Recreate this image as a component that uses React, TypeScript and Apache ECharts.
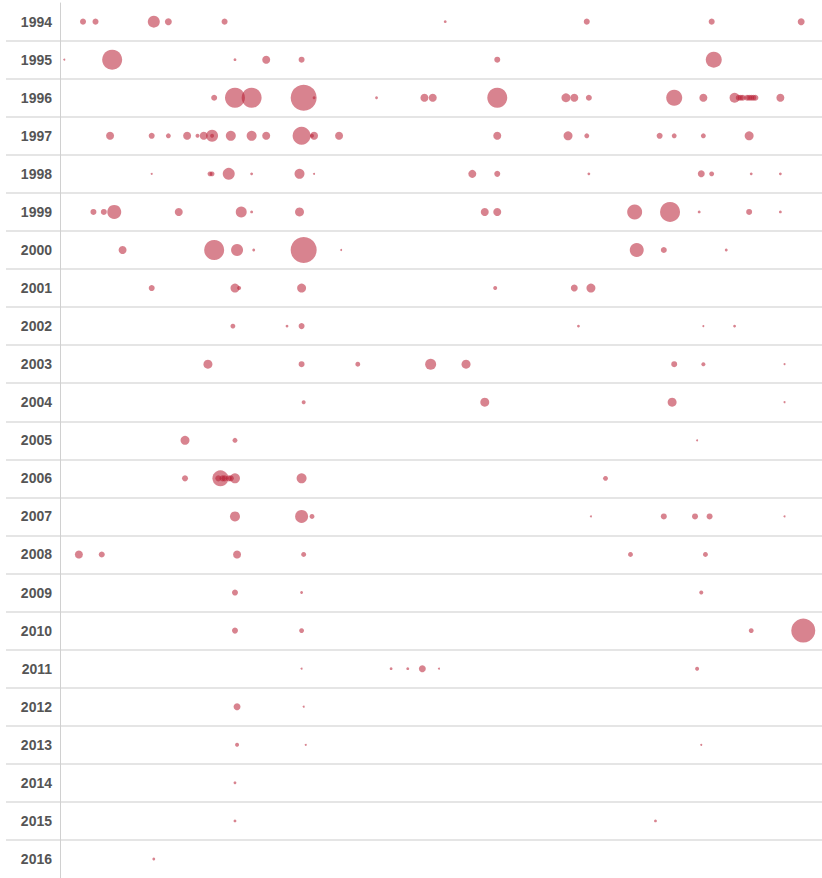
import React, { useEffect, useRef } from "react";
import * as echarts from "echarts";

const years = [
  "1994", "1995", "1996", "1997", "1998", "1999", "2000", "2001", "2002", "2003", "2004", "2005",
  "2006", "2007", "2008", "2009", "2010", "2011", "2012", "2013", "2014", "2015", "2016",
];

// day of year of each event, per year row
const eventDays: number[][] = [
  [11, 17, 45, 52, 79, 185, 253, 313, 356],
  [2, 25, 84, 99, 116, 210, 314],
  [74, 84, 92, 117, 122, 152, 175, 179, 210, 243, 247, 254, 295, 309, 324, 326, 327, 328, 330, 331, 332, 333, 334, 346],
  [24, 44, 52, 61, 66, 69, 73, 73, 82, 92, 99, 116, 121, 122, 134, 210, 244, 253, 288, 295, 309, 331],
  [44, 72, 73, 81, 92, 115, 122, 198, 210, 254, 308, 313, 332, 346],
  [16, 21, 26, 57, 87, 92, 115, 204, 210, 276, 293, 307, 331, 346],
  [30, 74, 85, 93, 117, 135, 277, 290, 320],
  [44, 84, 86, 116, 209, 247, 255],
  [83, 109, 116, 249, 309, 324],
  [71, 116, 143, 178, 195, 295, 309, 348],
  [117, 204, 294, 348],
  [60, 84, 306],
  [60, 76, 77, 78, 79, 81, 82, 84, 116, 262],
  [84, 116, 121, 255, 290, 305, 312, 348],
  [9, 20, 85, 117, 274, 310],
  [84, 116, 308],
  [84, 116, 332, 357],
  [116, 159, 167, 174, 182, 306],
  [85, 117],
  [85, 118, 308],
  [84],
  [84, 286],
  [45],
];

// magnitude of each event (matching eventDays)
const eventSizes: number[][] = [
  [9, 9, 36, 12, 9, 2, 9, 9, 12],
  [1, 100, 2, 16, 9, 9, 64],
  [9, 100, 100, 169, 2, 2, 16, 16, 100, 20, 16, 9, 64, 16, 25, 9, 9, 9, 9, 9, 9, 9, 9, 16],
  [16, 9, 6, 16, 4, 16, 4, 36, 25, 25, 16, 81, 4, 16, 16, 16, 20, 6, 9, 6, 6, 20],
  [1, 6, 6, 36, 2, 25, 1, 16, 9, 2, 12, 6, 2, 2],
  [9, 9, 49, 16, 30, 2, 20, 16, 16, 56, 100, 2, 9, 2],
  [16, 100, 36, 2, 169, 1, 49, 9, 2],
  [9, 20, 4, 20, 4, 12, 20],
  [6, 2, 9, 2, 1, 2],
  [20, 9, 6, 30, 20, 9, 4, 1],
  [4, 20, 20, 1],
  [20, 6, 1],
  [9, 9, 64, 9, 9, 9, 9, 25, 25, 6],
  [25, 42, 6, 1, 9, 9, 9, 1],
  [16, 9, 16, 6, 6, 6],
  [9, 2, 4],
  [9, 6, 6, 144],
  [1, 2, 2, 12, 1, 4],
  [12, 1],
  [4, 1, 1],
  [2],
  [2, 2],
  [2],
];

export default function App() {
  const ref = useRef<HTMLDivElement>(null);

  useEffect(() => {
    if (!ref.current) return;
    const chart = echarts.init(ref.current, undefined, { renderer: "svg" });

    const data: any[] = [];
    years.forEach((y, i) => {
      eventDays[i].forEach((d, j) => {
        data.push([d, y, eventSizes[i][j]]);
      });
    });

    chart.setOption({
      animation: false,
      grid: { left: 6, right: 0, top: 2.6, height: 876 },
      xAxis: {
        type: "value",
        min: -26,
        max: 366,
        show: false,
      },
      yAxis: {
        type: "category",
        data: years,
        inverse: true,
        axisLine: { show: false },
        axisTick: { show: false },
        axisLabel: {
          inside: true,
          margin: 46,
          align: "right",
          color: "#555",
          fontWeight: "bold",
          fontSize: 14,
          fontFamily: "Liberation Sans, Arial, Helvetica, sans-serif",
        },
        splitLine: {
          show: true,
          showMinLine: false,
          showMaxLine: false,
          lineStyle: { color: "#dcdcdc", width: 1.5 },
        },
      },
      series: [
        {
          type: "scatter",
          data,
          symbolSize: (v: number[]) => 2 * Math.sqrt(v[2]),
          itemStyle: { color: "#b81e33", opacity: 0.55 },
          silent: true,
          markLine: {
            silent: true,
            symbol: "none",
            label: { show: false },
            lineStyle: { color: "#d0d0d0", width: 1, type: "solid" },
            data: [{ xAxis: 0 }],
          },
        },
      ],
    });

    return () => chart.dispose();
  }, []);

  return (
    <div
      ref={ref}
      style={{ position: "fixed", left: 0, top: 0, width: 822, height: 878, background: "#fff" }}
    />
  );
}
